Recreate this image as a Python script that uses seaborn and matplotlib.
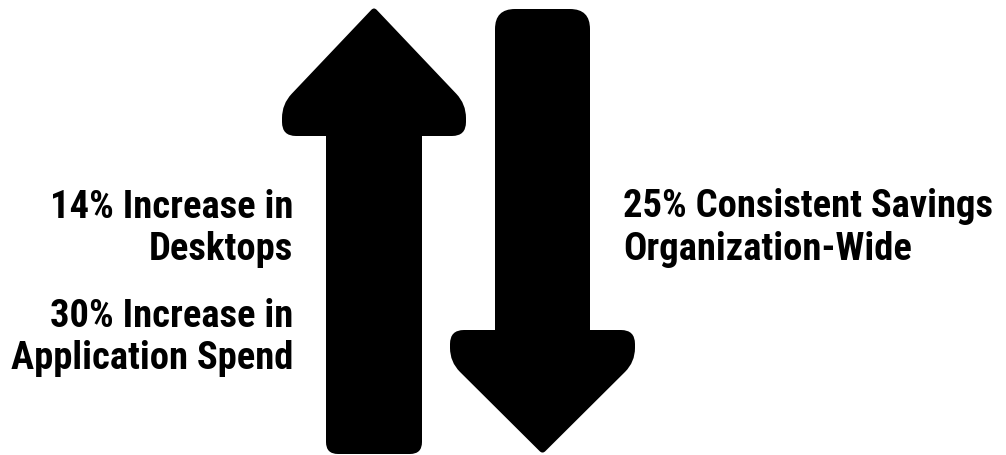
import numpy as np
import seaborn as sns
import matplotlib.pyplot as plt
import matplotlib.font_manager as fm
from matplotlib.path import Path
from matplotlib.patches import PathPatch

# data
up_pct = [14, 30]
up_names = ['Desktops', 'Application Spend']
down_pct = [25]
down_names = ['Organization-Wide']

sns.set_theme(style='white')

# pick a bold condensed face if there is one
installed = set(f.name for f in fm.fontManager.ttflist)
wanted = ['Roboto Condensed', 'Archivo Narrow', 'Liberation Sans Narrow', 'Fira Sans Condensed',
          'IBM Plex Sans Condensed', 'Barlow Semi Condensed', 'Barlow Condensed', 'PT Sans Narrow',
          'Encode Sans Condensed', 'Open Sans Condensed', 'Oswald']
family = [f for f in wanted if f in installed][:1] + ['DejaVu Sans']
plt.rcParams['font.family'] = family


def rounded_path(pts, radii):
    # polygon with rounded corners (quadratic bezier at each vertex)
    verts, codes = [], []
    n = len(pts)
    for i in range(n):
        p0 = np.array(pts[i - 1], float)
        p1 = np.array(pts[i], float)
        p2 = np.array(pts[(i + 1) % n], float)
        r = radii[i]
        a = p1 + (p0 - p1) / np.linalg.norm(p0 - p1) * r
        b = p1 + (p2 - p1) / np.linalg.norm(p2 - p1) * r
        verts.append(a)
        codes.append(Path.MOVETO if i == 0 else Path.LINETO)
        verts += [p1, b]
        codes += [Path.CURVE3, Path.CURVE3]
    verts.append(verts[0])
    codes.append(Path.CLOSEPOLY)
    return Path(verts, codes)


def up_arrow(cx, tip, shoulder, base, bottom, head, shaft):
    pts = [(cx, tip), (cx + head, shoulder), (cx + head, base), (cx + shaft, base),
           (cx + shaft, bottom), (cx - shaft, bottom), (cx - shaft, base),
           (cx - head, base), (cx - head, shoulder)]
    radii = [4, 14, 14, 0, 12, 12, 0, 14, 14]
    return rounded_path(pts, radii)


def down_arrow(cx, top, base, shoulder, tip, head, shaft):
    pts = [(cx - shaft, top), (cx + shaft, top), (cx + shaft, base), (cx + head, base),
           (cx + head, shoulder), (cx, tip), (cx - head, shoulder),
           (cx - head, base), (cx - shaft, base)]
    radii = [20, 20, 0, 14, 14, 4, 14, 14, 0]
    return rounded_path(pts, radii)


fig, ax = plt.subplots(figsize=(10.06, 4.56), dpi=100)
ax.set_position([0, 0, 1, 1])
ax.set_xlim(0, 1006)
ax.set_ylim(456, 0)
ax.axis('off')

ax.add_patch(PathPatch(up_arrow(374, 8, 105, 137, 455, 92, 48), fc='black', ec='none'))
ax.add_patch(PathPatch(down_arrow(542.5, 10, 331, 363, 455, 92.5, 47.5), fc='black', ec='none'))

texts = []
# left texts (increase)
for i, (v, name) in enumerate(zip(up_pct, up_names)):
    y0 = 218 + i * 109
    texts.append(ax.text(293, y0, f'{v}% Increase in', ha='right', va='baseline'))
    texts.append(ax.text(293, y0 + 42, name, ha='right', va='baseline'))

# right texts (savings)
for i, (v, name) in enumerate(zip(down_pct, down_names)):
    y0 = 217 + i * 109
    texts.append(ax.text(623, y0, f'{v}% Consistent Savings', ha='left', va='baseline'))
    texts.append(ax.text(623, y0 + 43, name, ha='left', va='baseline'))

# size the text so the two longest lines are as wide as in the picture
for t in texts:
    t.set_fontsize(20)
    t.set_fontweight('bold')
    t.set_color('black')
fig.canvas.draw()
r = fig.canvas.get_renderer()
w_app = texts[3].get_window_extent(r).width
w_sav = texts[4].get_window_extent(r).width
fs = 20 * 0.5 * (279 / w_app + 374 / w_sav)
for t in texts:
    t.set_fontsize(fs)

fig.savefig('out.png', dpi=100, facecolor='white')
